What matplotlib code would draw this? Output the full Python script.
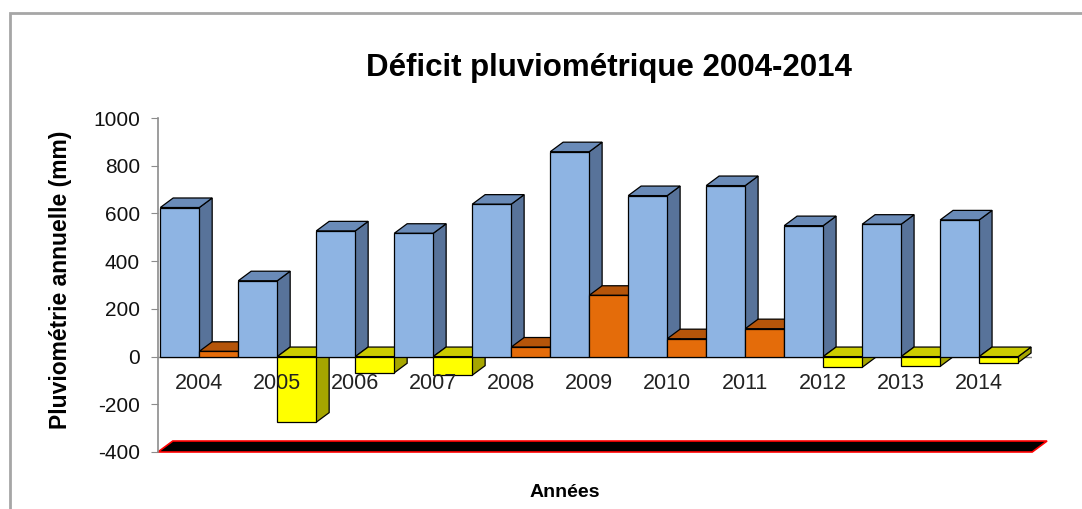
import matplotlib.pyplot as plt
from matplotlib.patches import Polygon, Rectangle

years = ["2004", "2005", "2006", "2007", "2008", "2009", "2010", "2011", "2012", "2013", "2014"]
pluvio = [625, 318, 527, 517, 639, 859, 675, 717, 549, 555, 573]
deficit = [22, -275, -68, -78, 40, 257, 75, 117, -45, -41, -25]
yticks = [-400, -200, 0, 200, 400, 600, 800, 1000]

plt.rcParams['font.family'] = ['Liberation Sans', 'DejaVu Sans']
plt.rcParams['axes.unicode_minus'] = False

# 3D look
dx, dy = 0.165, 40
w = 0.5
blue = ("#8EB4E3", "#6A8BB8", "#58739A")
orange = ("#E46C0A", "#B5550A", "#B5550A")
yellow = ("#FFFF00", "#CCCC00", "#A6A600")


def bar3d(ax, x0, v, cols):
    x1 = x0 + w
    front, top, side = cols
    kw = dict(edgecolor="black", linewidth=0.9, zorder=3)
    if v >= 0:
        t = [(x0, v), (x1, v), (x1 + dx, v + dy), (x0 + dx, v + dy)]
        s = [(x1, 0), (x1, v), (x1 + dx, v + dy), (x1 + dx, dy)]
        ax.add_patch(Polygon(s, closed=True, facecolor=side, **kw))
        ax.add_patch(Polygon(t, closed=True, facecolor=top, **kw))
        ax.add_patch(Rectangle((x0, 0), w, v, facecolor=front, **kw))
    else:
        t = [(x0, 0), (x1, 0), (x1 + dx, dy), (x0 + dx, dy)]
        s = [(x1, v), (x1, 0), (x1 + dx, dy), (x1 + dx, v + dy)]
        ax.add_patch(Polygon(s, closed=True, facecolor=side, **kw))
        ax.add_patch(Polygon(t, closed=True, facecolor=top, **kw))
        ax.add_patch(Rectangle((x0, v), w, -v, facecolor=front, **kw))


fig = plt.figure(figsize=(10.82, 5.09), dpi=100)
ax = fig.add_axes([0.146, 0.112, 0.808, 0.656])
ax.set_xlim(-0.53, 10.68)
ax.set_ylim(-400, 1000)

# floor
fl = [(-0.53, -400), (10.68, -400), (10.68 + 0.19, -400 + 46), (-0.53 + 0.19, -400 + 46)]
ax.add_patch(Polygon(fl, closed=True, facecolor="black", edgecolor="red",
                     linewidth=1.2, clip_on=False, zorder=2))

ax.axhline(0, color="#8c8c8c", linewidth=1, zorder=1)

for i in range(len(years)):
    bar3d(ax, i - 0.5, pluvio[i], blue)
    bar3d(ax, i, deficit[i], yellow if deficit[i] < 0 else orange)
    ax.text(i, -112, years[i], ha="center", va="center", fontsize=15.5,
            color="#222222", zorder=5)

for sp in ["top", "right", "bottom"]:
    ax.spines[sp].set_visible(False)
ax.spines["left"].set_color("#8c8c8c")
ax.spines["left"].set_linewidth(1.2)
ax.set_xticks([])
ax.set_yticks(yticks)
ax.tick_params(axis="y", length=5, color="#8c8c8c", labelsize=15, pad=8,
               labelcolor="#111111")

fig.text(0.056, 0.45, "Pluviométrie annuelle (mm)", rotation=90, ha="center", va="center",
         fontsize=16.5, fontweight="bold")
fig.text(0.522, 0.033, "Années", ha="center", va="center", fontsize=14, fontweight="bold")
fig.text(0.563, 0.866, "Déficit pluviométrique 2004-2014", ha="center", va="center",
         fontsize=22.5, fontweight="bold")

# chart frame
fig.add_artist(Rectangle((10 / 1082, -0.1), 1.2, 1.1 - 13 / 509, transform=fig.transFigure,
                         fill=False, edgecolor="#a6a6a6", linewidth=2, clip_on=False))

fig.savefig("out.png", dpi=100)
